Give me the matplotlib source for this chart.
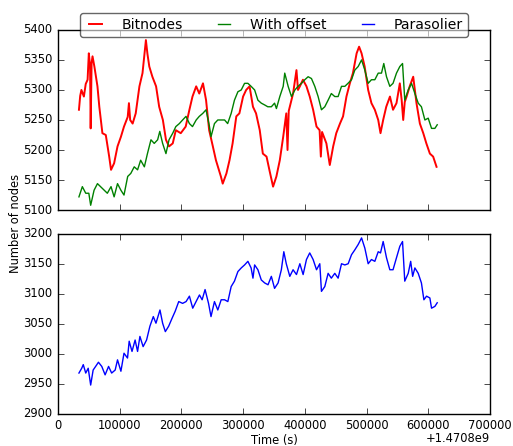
import matplotlib
matplotlib.use("Agg")
import matplotlib.pyplot as plt
import numpy as np

plt.style.use('classic')
plt.rcParams['font.family'] = ['DejaVu Sans']
plt.rcParams['font.size'] = 8.3

OFFSET = 1.4708e9
OFFSET_LABEL = '+1.4708e9'

red_t = [34000, 36000, 38000, 42000, 45000, 48000, 50000, 52000, 53000, 54500, 56000, 59000,
         64000, 67000, 72000, 77500, 83000, 86000, 91000, 96500, 102000, 107000, 113000, 115000,
         117000, 121000, 126000, 132000, 137000, 142500, 145000, 148000, 153000, 159000, 164000,
         170000, 175000, 180000, 186000, 191000, 199000, 207000, 213000, 218000, 224000, 229000,
         235000, 240000, 245000, 251000, 256000, 264000, 267000, 273000, 278000, 283000, 289000,
         294000, 300000, 305000, 310500, 316000, 321000, 327000, 332000, 338000, 343000, 348600,
         354000, 359500, 365000, 370000, 372000, 374000, 375700, 381000, 386500, 389000, 392000,
         397000, 402700, 408000, 413500, 419000, 424000, 426000, 428000, 435000, 440500, 446000,
         451000, 457000, 462000, 467500, 473000, 478000, 484000, 488000, 492000, 497000, 502700,
         508000, 513500, 519000, 522700, 527000, 532000, 538000, 543000, 548600, 554000, 557000,
         559500, 562000, 565000, 570000, 575700, 581000, 586500, 592000, 597000, 602700, 608000,
         613500]
red_v = [5267, 5290, 5300, 5289, 5310, 5317, 5361, 5340, 5236, 5345, 5356, 5339,
         5306, 5272, 5228, 5225, 5189, 5167, 5178, 5206, 5222, 5239, 5255, 5278,
         5250, 5244, 5261, 5306, 5328, 5383, 5360, 5339, 5322, 5306, 5272,
         5250, 5217, 5206, 5211, 5233, 5228, 5239, 5267, 5289, 5306, 5294,
         5311, 5283, 5233, 5206, 5183, 5156, 5144, 5161, 5183, 5211, 5256,
         5261, 5289, 5300, 5306, 5272, 5261, 5233, 5194, 5189, 5165, 5139,
         5156, 5183, 5222, 5261, 5200, 5265, 5272, 5294, 5333, 5300, 5306,
         5317, 5306, 5289, 5267, 5239, 5233, 5189, 5230, 5211, 5175, 5206,
         5228, 5244, 5256, 5289, 5311, 5328, 5361, 5372, 5361, 5339, 5300,
         5278, 5267, 5250, 5228, 5250, 5272, 5289, 5267, 5278, 5311, 5283,
         5250, 5280, 5289, 5306, 5322, 5278, 5244, 5228, 5211, 5194, 5189,
         5172]

green_t = [34000, 39500, 45000, 50000, 53000, 58500, 64000, 69000, 75000, 80000, 86000, 91000,
           96500, 102000, 107000, 113000, 118000, 123600, 129000, 134000, 140000, 145000, 150700,
           156000, 161500, 165000, 169600, 175000, 180000, 186000, 191000, 196700, 202000, 207500,
           213000, 218000, 224000, 229000, 234700, 240000, 245500, 248000, 253600, 259000, 264500,
           270000, 275000, 280700, 286000, 291600, 297000, 302400, 307800, 313000, 318700, 324000,
           329500, 335000, 340000, 345800, 351000, 354000, 359500, 365000, 367500, 373000, 378400,
           384000, 389000, 394600, 400000, 405400, 410800, 416200, 421600, 427000, 432400, 437800,
           443000, 448600, 454000, 459500, 464900, 470000, 475700, 481000, 486500, 492000, 497300,
           502700, 508000, 513500, 519000, 524300, 528000, 532400, 537800, 543000, 548600, 554000,
           558400, 562000, 567600, 573000, 578400, 583800, 589000, 594600, 600000, 605400, 610800,
           614600]
green_v = [5122, 5139, 5128, 5128, 5108, 5133, 5144, 5139, 5133, 5128, 5139, 5122,
           5144, 5133, 5125, 5156, 5161, 5172, 5167, 5183, 5172, 5194, 5217,
           5211, 5217, 5231, 5211, 5194, 5217, 5228, 5239, 5244, 5250, 5256,
           5244, 5239, 5250, 5256, 5261, 5267, 5239, 5222, 5244, 5250, 5250,
           5250, 5244, 5261, 5283, 5297, 5300, 5311, 5311, 5306, 5300, 5283,
           5278, 5275, 5272, 5272, 5278, 5269, 5289, 5306, 5328, 5306, 5289,
           5300, 5306, 5311, 5317, 5322, 5319, 5306, 5289, 5267, 5272, 5283,
           5294, 5289, 5289, 5306, 5306, 5311, 5317, 5333, 5339, 5350, 5333,
           5311, 5317, 5317, 5328, 5328, 5344, 5322, 5306, 5311, 5328, 5339,
           5344, 5283, 5300, 5311, 5294, 5278, 5272, 5250, 5253, 5236, 5236,
           5242]

blue_t = [34000, 38500, 41000, 45000, 49000, 53000, 57000, 61000, 65600, 71000, 76400, 82000,
          87000, 92700, 96500, 102000, 107000, 112700, 115400, 120000, 125000, 129000, 132800,
          138000, 143600, 149000, 154500, 158800, 165300, 169600, 174000, 179400, 184800, 190000,
          195700, 202000, 207600, 213000, 218400, 223800, 229300, 233600, 238400, 244000, 248000,
          253600, 259000, 264500, 270000, 275300, 280700, 286000, 291600, 297000, 302400, 307800,
          313000, 316000, 318700, 324000, 329500, 335000, 340400, 345800, 351000, 356700, 362000,
          366000, 370000, 375700, 381000, 386500, 392000, 397300, 402700, 408000, 413500, 419000,
          424300, 427000, 432400, 437800, 443000, 448600, 454000, 459500, 464900, 470300, 475700,
          481000, 486500, 492000, 497300, 502700, 508000, 513500, 519000, 522700, 527000, 532400,
          537800, 543000, 548600, 554000, 558400, 562000, 567600, 571600, 574800, 578400, 583800,
          589000, 593000, 597300, 602700, 605400, 610800, 614600]
blue_v = [2968, 2976, 2982, 2968, 2976, 2948, 2973, 2979, 2986, 2979, 2965, 2979,
          2968, 2973, 2990, 2971, 3001, 2993, 3021, 3004, 3023, 3004, 3029,
          3012, 3023, 3046, 3062, 3051, 3073, 3051, 3037, 3046, 3059, 3071,
          3087, 3084, 3087, 3096, 3076, 3087, 3098, 3090, 3107, 3084, 3062,
          3087, 3073, 3090, 3090, 3087, 3112, 3121, 3137, 3143, 3148, 3154,
          3143, 3126, 3148, 3140, 3123, 3118, 3115, 3129, 3109, 3118, 3140,
          3170, 3150, 3129, 3140, 3132, 3150, 3132, 3157, 3168, 3157, 3140,
          3150, 3104, 3112, 3134, 3126, 3134, 3126, 3150, 3148, 3150, 3165,
          3173, 3182, 3193, 3176, 3150, 3157, 3154, 3170, 3168, 3187, 3160,
          3140, 3140, 3160, 3179, 3187, 3121, 3134, 3154, 3129, 3143, 3134,
          3118, 3090, 3096, 3093, 3076, 3079, 3085]

fig = plt.figure(figsize=(5.13, 4.46), dpi=100, facecolor='white')
ax1 = fig.add_axes([0.113, 0.529, 0.842, 0.404])
ax2 = fig.add_axes([0.113, 0.072, 0.842, 0.404], sharex=ax1)

l1, = ax1.plot(np.array(red_t) + OFFSET, red_v, color='r', lw=1.4, label='Bitnodes')
l2, = ax1.plot(np.array(green_t) + OFFSET, green_v, color='g', lw=1.0, label='With offset')
l3, = ax2.plot(np.array(blue_t) + OFFSET, blue_v, color='b', lw=1.0, label='Parasolier')

ax1.set_ylim(5100, 5400)
ax1.set_yticks(np.arange(5100, 5401, 50))
ax2.set_ylim(2900, 3200)
ax2.set_yticks(np.arange(2900, 3201, 50))
ax2.set_xlim(OFFSET, OFFSET + 700000)
ax2.set_xticks(OFFSET + np.arange(0, 700001, 100000))
ax2.ticklabel_format(axis='x', useOffset=OFFSET, style='plain')
plt.setp(ax1.get_xticklabels(), visible=False)
ax1.xaxis.get_offset_text().set_visible(False)
ax2.xaxis.get_offset_text().set_visible(False)
ax2.text(1.0, -0.138, OFFSET_LABEL, transform=ax2.transAxes, ha='right', va='center',
         fontsize=8.3)

for ax in (ax1, ax2):
    ax.set_facecolor('white')
    ax.tick_params(labelsize=8.3)

ax2.set_xlabel('Time (s)', fontsize=8.3, labelpad=1)
fig.text(0.03, 0.50, 'Number of nodes', rotation=90, ha='center', va='center', fontsize=8.3)

leg = ax1.legend(handles=[l1, l2, l3], loc='upper center', bbox_to_anchor=(0.5, 1.095),
                 ncol=3, fontsize=10.1, fancybox=True, framealpha=0.6, handlelength=1.5,
                 handletextpad=1.1, columnspacing=2.2, borderpad=0.35, borderaxespad=0.0)

fig.savefig('out.png', dpi=100, facecolor='white')
